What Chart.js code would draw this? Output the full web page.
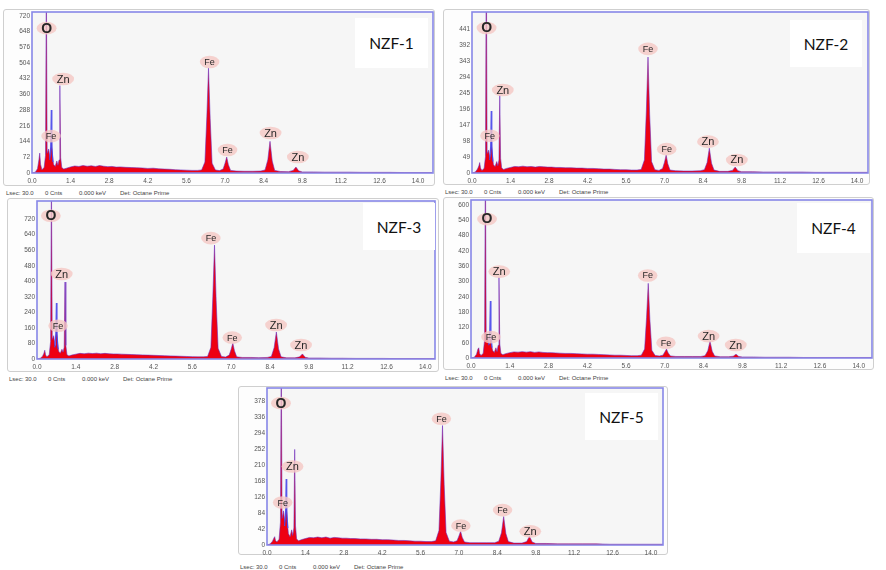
<!DOCTYPE html>
<html><head><meta charset="utf-8">
<script src="https://cdn.jsdelivr.net/npm/chart.js@4/dist/chart.umd.min.js"></script>
<style>
html,body{margin:0;padding:0;background:#fff}
body{width:886px;height:570px;position:relative;overflow:hidden;font-family:"Liberation Sans",Arial,sans-serif}
.frame{position:absolute;border:1px solid #cfcfcf;border-radius:3px;background:#fdfdfd;box-sizing:border-box}
canvas{position:absolute}
.foot{position:absolute;font-size:6px;color:#444;white-space:nowrap;line-height:7px}
.tag{position:absolute;background:#fff;font-family:Lato,"Open Sans",sans-serif;font-size:15.5px;color:#111;display:flex;align-items:center;justify-content:center}
</style></head><body>
<script>
// ---------- DATA ----------
const ENERGY_KEV = [0.00,0.12,0.20,0.25,0.28,0.31,0.36,0.44,0.49,0.52,
0.55,0.60,0.65,0.68,0.71,0.74,0.78,0.84,0.90,0.94,
0.98,1.01,1.04,1.08,1.15,1.25,1.40,1.55,1.70,1.85,
2.00,2.15,2.30,2.45,2.60,2.75,2.90,3.05,3.20,3.40,
3.60,3.80,4.00,4.20,4.40,4.60,4.80,5.00,5.20,5.40,
5.60,5.80,6.00,6.15,6.27,6.34,6.40,6.46,6.53,6.65,
6.80,6.93,7.00,7.06,7.12,7.20,7.40,7.70,8.00,8.30,
8.45,8.55,8.63,8.71,8.80,9.00,9.30,9.47,9.57,9.67,
9.80,10.2,10.6,11.0,11.5,12.0,12.5,13.0,13.5,14.0,14.5];

const NZF1_COUNTS = [0,4,20,60,91,40,15,25,80,900,
90,110,70,100,150,80,40,30,55,35,
60,400,70,25,18,22,28,32,30,34,
31,33,30,34,31,29,30,27,28,26,
25,24,23,21,22,19,18,17,15,14,
13,12,12,14,50,260,480,250,45,14,
11,18,45,73,38,12,9,8,8,9,
14,60,145,55,12,7,6,12,27,10,
5,5,4,4,4,3,3,3,2,2,2];

const NZF2_COUNTS = [0,3,12,22,32,15,8,14,50,700,
60,70,45,60,100,55,25,20,35,22,
40,238,45,15,11,14,17,20,19,21,
19,20,18,20,19,18,18,17,17,16,
16,15,15,14,14,13,12,12,11,10,
10,9,9,11,40,190,355,180,35,10,
8,14,33,55,28,9,7,6,6,7,
10,32,76,30,9,5,5,8,18,7,
4,4,3,3,3,3,2,2,2,2,2];

const NZF3_COUNTS = [0,4,14,30,45,20,12,22,90,950,
100,120,70,110,160,80,40,30,50,35,
60,396,70,22,16,20,25,29,27,30,
28,30,27,29,27,26,26,25,24,23,
22,21,20,19,18,17,16,15,14,13,
12,11,11,13,60,320,586,300,55,13,
10,20,50,82,42,11,8,8,7,8,
13,58,139,52,11,6,6,11,26,9,
5,5,4,4,3,3,3,2,2,2,2];

const NZF4_COUNTS = [0,3,15,35,40,18,10,18,70,800,
70,80,55,60,75,50,30,22,40,25,
50,316,55,18,13,17,21,24,23,25,
23,25,22,24,22,21,21,20,19,18,
18,17,16,15,15,14,13,12,11,11,
10,9,9,11,35,160,293,150,30,10,
8,11,24,35,20,8,6,6,6,6,
9,28,66,26,8,5,5,7,15,6,
4,4,3,3,3,2,2,2,2,2,2];

const NZF5_COUNTS = [0,3,10,18,22,12,8,15,60,500,
70,90,60,80,105,60,30,22,40,25,
45,252,50,16,11,14,17,20,19,21,
19,21,18,20,19,18,18,17,17,16,
16,15,15,14,14,13,12,12,11,10,
10,9,9,11,38,170,315,160,33,10,
8,11,24,36,20,8,6,6,6,6,
10,32,75,30,9,5,5,9,23,8,
4,4,3,3,3,3,2,2,2,2,2];

// blue overlay line at the Fe L line
const FEL_ENERGY = [0.64,0.68,0.70,0.72,0.76];
const NZF1_FEL = [60,120,288,120,50];
const NZF2_FEL = [40,80,190,80,35];
const NZF3_FEL = [60,130,288,130,50];
const NZF4_FEL = [50,110,224,100,40];
const NZF5_FEL = [50,90,174,90,45];

const X_TICKS = [0.0,1.4,2.8,4.2,5.6,7.0,8.4,9.8,11.2,12.6,14.0];
const NZF1_Y_TICKS = [0,72,144,216,288,360,432,504,576,648,720];
const NZF2_Y_TICKS = [0,49,98,147,196,245,294,343,392,441];
const NZF3_Y_TICKS = [0,80,160,240,320,400,480,560,640,720];
const NZF4_Y_TICKS = [0,60,120,180,240,300,360,420,480,540,600];
const NZF5_Y_TICKS = [0,42,84,126,168,210,252,294,336,378];

// peak labels: [element, keV, counts]
const NZF1_LABELS = [['O',0.53,663],['Zn',1.13,430],['Fe',0.69,169],['Fe',6.44,508],['Fe',7.09,105],['Zn',8.65,183],['Zn',9.64,73]];
const NZF2_LABELS = [['O',0.53,444],['Zn',1.12,254],['Fe',0.65,114],['Fe',6.40,380],['Fe',7.08,73],['Zn',8.58,96],['Zn',9.63,40]];
const NZF3_LABELS = [['O',0.50,737],['Zn',0.89,437],['Fe',0.76,171],['Fe',6.27,622],['Fe',7.04,110],['Zn',8.62,175],['Zn',9.52,72]];
const NZF4_LABELS = [['O',0.58,545],['Zn',1.02,339],['Fe',0.72,82],['Fe',6.38,324],['Fe',7.04,60],['Zn',8.58,86],['Zn',9.56,51]];
const NZF5_LABELS = [['O',0.51,374],['Zn',0.93,207],['Fe',0.57,112],['Fe',6.36,333],['Fe',7.07,51],['Fe',8.59,92],['Zn',9.60,36]];

const FOOTER_ITEMS = ['Lsec: 30.0','0 Cnts','0.000 keV','Det: Octane Prime'];

// ---------- LAYOUT ----------
const PANELS = [
 {name:'NZF-1',counts:NZF1_COUNTS,fel:NZF1_FEL,yTicks:NZF1_Y_TICKS,labels:NZF1_LABELS,xMax:14.54,yMax:737,frame:[3,9,435,186],plot:[32,12,433,173],foot:[6,190],tag:[355,18,428,68]},
 {name:'NZF-2',counts:NZF2_COUNTS,fel:NZF2_FEL,yTicks:NZF2_Y_TICKS,labels:NZF2_LABELS,xMax:14.40,yMax:493,frame:[443,9,870,185],plot:[472,12,868,173],foot:[445,189],tag:[790,20,862,67]},
 {name:'NZF-3',counts:NZF3_COUNTS,fel:NZF3_FEL,yTicks:NZF3_Y_TICKS,labels:NZF3_LABELS,xMax:14.35,yMax:813,frame:[7,198,439,372],plot:[37,201,435,359],foot:[9,376],tag:[363,203,435,250]},
 {name:'NZF-4',counts:NZF4_COUNTS,fel:NZF4_FEL,yTicks:NZF4_Y_TICKS,labels:NZF4_LABELS,xMax:14.48,yMax:620,frame:[443,197,874,370],plot:[471,200,872,358],foot:[445,375],tag:[797,203,870,253]},
 {name:'NZF-5',counts:NZF5_COUNTS,fel:NZF5_FEL,yTicks:NZF5_Y_TICKS,labels:NZF5_LABELS,xMax:14.44,yMax:414,frame:[238,386,668,555],plot:[267,388,663,545],foot:[240,564],tag:[585,393,658,440]}
];
const FOOT_OFFSETS = [0,39,73,114];

const plotBox = {
  id:'plotBox',
  beforeDatasetsDraw(chart){
    const {ctx,chartArea:a} = chart;
    ctx.save(); ctx.fillStyle='#f6f6f6'; ctx.fillRect(a.left,a.top,a.width,a.height); ctx.restore();
  },
  afterDatasetsDraw(chart,args,opts){
    const {ctx,chartArea:a,scales:{x,y}} = chart;
    ctx.save();
    ctx.strokeStyle='#8787e8'; ctx.lineWidth=1.6;
    ctx.strokeRect(a.left,a.top,a.width,a.height);
    (opts.items||[]).forEach(([t,e,c])=>{
      const px=x.getPixelForValue(e), py=y.getPixelForValue(c);
      const size = t==='O'?14:(t==='Zn'?11:9);
      ctx.font = (t==='O'?'bold ':'')+size+'px "Liberation Sans", Arial, sans-serif';
      const w = ctx.measureText(t).width;
      ctx.fillStyle='rgba(245,200,196,0.8)';
      ctx.beginPath();
      ctx.ellipse(px,py,w/2+4.5,6.3,0,0,Math.PI*2);
      ctx.fill();
      ctx.fillStyle='#262626'; ctx.textAlign='center'; ctx.textBaseline='middle';
      ctx.fillText(t,px,py+0.5);
    });
    ctx.restore();
  }
};

PANELS.forEach(p=>{
  const [fl,ft,fr,fb]=p.frame, [pl,pt,pr,pb]=p.plot;
  const fr_ = document.createElement('div'); fr_.className='frame';
  Object.assign(fr_.style,{left:fl+'px',top:ft+'px',width:(fr-fl)+'px',height:(fb-ft)+'px'});
  document.body.appendChild(fr_);
  const cv = document.createElement('canvas');
  cv.width=fr-fl; cv.height=fb-ft;
  Object.assign(cv.style,{left:fl+'px',top:ft+'px',width:(fr-fl)+'px',height:(fb-ft)+'px'});
  document.body.appendChild(cv);
  FOOTER_ITEMS.forEach((t,i)=>{
    const d=document.createElement('div'); d.className='foot'; d.textContent=t;
    d.style.left=(p.foot[0]+FOOT_OFFSETS[i])+'px'; d.style.top=p.foot[1]+'px';
    document.body.appendChild(d);
  });
  const tg=document.createElement('div'); tg.className='tag'; tg.textContent=p.name;
  Object.assign(tg.style,{left:p.tag[0]+'px',top:p.tag[1]+'px',width:(p.tag[2]-p.tag[0])+'px',height:(p.tag[3]-p.tag[1])+'px'});
  document.body.appendChild(tg);

  const tickFont={size:6.5,family:'"Liberation Sans", Arial, sans-serif'};
  const zeroPad = a=>{a.paddingTop=0;a.paddingBottom=0;a.paddingLeft=0;a.paddingRight=0;};
  new Chart(cv,{
    type:'line',
    data:{datasets:[
      {data:FEL_ENERGY.map((e,i)=>({x:e,y:p.fel[i]})),borderColor:'rgba(70,70,235,0.9)',borderWidth:1.2,fill:false,pointRadius:0,order:0},
      {data:ENERGY_KEV.map((e,i)=>({x:e,y:p.counts[i]})),borderColor:'rgba(105,40,190,0.7)',borderWidth:0.8,backgroundColor:'rgb(238,0,18)',fill:'origin',pointRadius:0,tension:0,order:1}
    ]},
    options:{
      responsive:false,animation:false,devicePixelRatio:1,
      layout:{padding:{top:pt-ft,right:fr-pr,left:0,bottom:0}},
      plugins:{legend:{display:false},tooltip:{enabled:false},plotBox:{items:p.labels}},
      scales:{
        x:{type:'linear',min:0,max:p.xMax,grid:{display:false,drawTicks:false},border:{display:false},
           ticks:{font:tickFont,color:'#555',padding:4,maxRotation:0,autoSkip:false,callback:v=>Number(v).toFixed(1)},
           afterBuildTicks:a=>{a.ticks=X_TICKS.map(v=>({value:v}));},
           afterFit:a=>{a.height=fb-pb;zeroPad(a);}},
        y:{type:'linear',min:0,max:p.yMax,grid:{display:false,drawTicks:false},border:{display:false},
           ticks:{font:tickFont,color:'#555',padding:2,autoSkip:false,callback:v=>String(v)},
           afterBuildTicks:a=>{a.ticks=p.yTicks.map(v=>({value:v}));},
           afterFit:a=>{a.width=pl-fl;zeroPad(a);}}
      }
    },
    plugins:[plotBox]
  });
});
</script>
</body></html>
